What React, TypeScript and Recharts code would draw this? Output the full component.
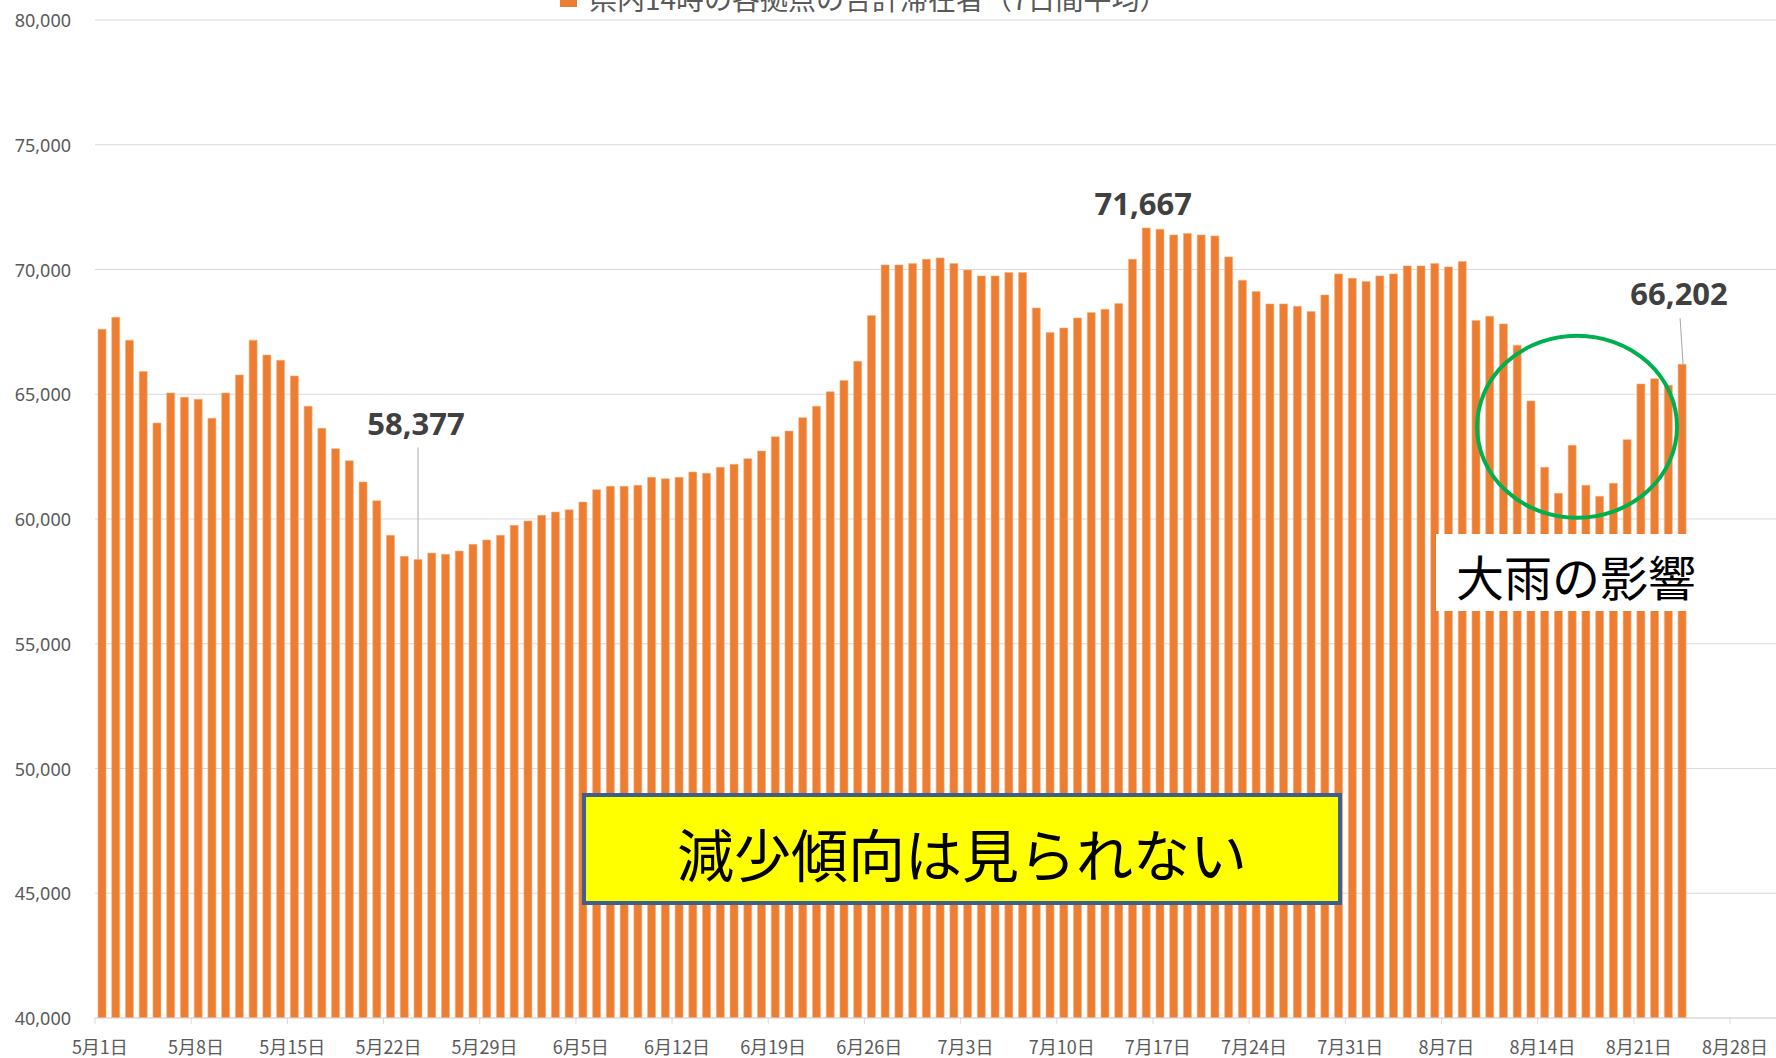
import { BarChart, Bar, XAxis, YAxis, CartesianGrid, LabelList, ReferenceDot } from 'recharts'

// 県内14時の各拠点の合計滞在者（7日間平均）, daily
const mayValues = [
  67607, 68088, 67165, 65907, 63849, 65052, 64880, 64800, 64038, 65052,
  65774, 67165, 66576, 66363, 65734, 64519, 63637, 62819, 62337, 61483,
  60733, 59346, 58504, 58377, 58636, 58583, 58716, 58984, 59160, 59346,
  59747,
]
const juneValues = [
  59920, 60148, 60280, 60373, 60681, 61175, 61311, 61311, 61351, 61672,
  61616, 61672, 61884, 61832, 62073, 62193, 62418, 62726, 63300, 63528,
  64062, 64519, 65100, 65550, 66323, 68152, 70184, 70184, 70237, 70413,
]
const julyValues = [
  70465, 70237, 69984, 69743, 69743, 69876, 69876, 68460, 67470, 67658,
  68059, 68272, 68408, 68633, 70413, 71667, 71616, 71387, 71440, 71387,
  71347, 70505, 69571, 69114, 68621, 68621, 68528, 68312, 68981, 69824,
  69652,
]
const augustValues = [
  69515, 69744, 69824, 70145, 70145, 70237, 70105, 70317, 67951, 68128,
  67819, 66965, 64731, 62073, 61030, 62955, 61351, 60910, 61431, 63180,
  65413, 65626, 65361, 66202,
]

const months = [5, 6, 7, 8]
const monthLengths = [31, 30, 31, 31]
const seriesByMonth = [mayValues, juneValues, julyValues, augustValues]

const xTickLabels = [
  '5月1日', '5月8日', '5月15日', '5月22日', '5月29日', '6月5日', '6月12日',
  '6月19日', '6月26日', '7月3日', '7月10日', '7月17日', '7月24日', '7月31日',
  '8月7日', '8月14日', '8月21日', '8月28日',
]
const yTicks = [40000, 45000, 50000, 55000, 60000, 65000, 70000, 75000, 80000]
const calloutDays = ['5月24日', '7月16日', '8月24日']
const legendLabel = '県内14時の各拠点の合計滞在者（7日間平均）'

const data = months.flatMap((m, mi) =>
  Array.from({ length: monthLengths[mi] }, (_, d) => ({
    day: `${m}月${d + 1}日`,
    visitors: seriesByMonth[mi][d] ?? null,
  })),
)

const CHART_W = 1785
const AXIS_W = 95
const SLOT = (CHART_W - AXIS_W) / data.length
const ORANGE = '#ED7D31'
const GRID = '#D9D9D9'
const TICK_TEXT = '#595959'
const jpFont = '"Noto Sans CJK JP", "Noto Sans", sans-serif'

const DayTick = ({ x, y, payload }: any) => (
  <g>
    <line x1={x - SLOT / 2} x2={x - SLOT / 2} y1={y} y2={y + 6} stroke={GRID} />
    <text x={x - 2} y={y + 28} textAnchor="middle" dominantBaseline="central"
      fontSize={18} fill={TICK_TEXT} fontFamily={jpFont}>
      {payload.value}
    </text>
  </g>
)

const ValueTick = ({ x, y, payload }: any) => (
  <text x={x - 24} y={y} textAnchor="end" dominantBaseline="central"
    fontSize={18} fill={TICK_TEXT} fontFamily='"Noto Sans", sans-serif'>
    {payload.value.toLocaleString('en-US')}
  </text>
)

const renderCallout = (props: any) => {
  const { x, y, width, value, index } = props
  const day = data[index]?.day
  if (value == null || !calloutDays.includes(day)) return null
  const cx = x + width / 2
  const txt = Number(value).toLocaleString('en-US')
  const textStyle = {
    fontSize: 31, fontWeight: 700, fill: '#404040', fontFamily: '"Noto Sans", sans-serif',
  }
  if (day === '5月24日') {
    return (
      <g>
        <line x1={cx} x2={cx} y1={y - 112} y2={y} stroke="#A6A6A6" strokeWidth={1} />
        <text x={cx - 2} y={y - 124} textAnchor="middle" style={textStyle}>{txt}</text>
      </g>
    )
  }
  if (day === '8月24日') {
    return (
      <g>
        <line x1={cx - 2} x2={cx + 1} y1={y - 46} y2={y} stroke="#A6A6A6" strokeWidth={1} />
        <text x={cx - 3} y={y - 59} textAnchor="middle" style={textStyle}>{txt}</text>
      </g>
    )
  }
  return <text x={cx - 3} y={y - 13} textAnchor="middle" style={textStyle}>{txt}</text>
}

export default function App() {
  return (
    <div style={{ position: 'absolute', left: 0, top: 0, width: 1776, height: 1058, overflow: 'hidden', background: '#fff' }}>
      <BarChart width={CHART_W} height={1058} data={data}
        margin={{ top: 20, right: 0, bottom: 0, left: 0 }}>
        <CartesianGrid vertical={false} stroke={GRID} />
        <XAxis dataKey="day" ticks={xTickLabels} interval={0} height={40}
          tickLine={false} tickSize={0} tickMargin={0} stroke={GRID} tick={<DayTick />} />
        <YAxis domain={[40000, 80000]} ticks={yTicks} width={AXIS_W} allowDataOverflow
          axisLine={false} tickLine={false} tickSize={0} tickMargin={0} tick={<ValueTick />} />
        <Bar dataKey="visitors" fill={ORANGE} barSize={8} stroke="#F4B183" strokeWidth={0.6}
          isAnimationActive={false}>
          <LabelList dataKey="visitors" content={renderCallout} />
        </Bar>
        <ReferenceDot x="8月16日" y={63700} r={0}
          shape={(p: any) => (
            <ellipse cx={p.cx + 5} cy={p.cy} rx={100} ry={91} fill="none" stroke="#00B050" strokeWidth={4} />
          )} />
      </BarChart>

      {/* legend, cut off by the top edge like the source */}
      <div style={{
        position: 'absolute', left: 560, top: -22, display: 'flex', alignItems: 'center', gap: 12,
        fontSize: 28, lineHeight: '40px', color: TICK_TEXT, fontFamily: jpFont, whiteSpace: 'nowrap',
      }}>
        <span style={{ width: 17, height: 17, background: ORANGE, display: 'inline-block' }} />
        {legendLabel}
      </div>

      <div style={{
        position: 'absolute', left: 582, top: 793, width: 760, height: 112, boxSizing: 'border-box',
        border: '4px solid #3D5F8F', background: '#FFFF00', display: 'flex', alignItems: 'center',
        justifyContent: 'center', paddingTop: 6, fontSize: 57, fontFamily: jpFont, color: '#000',
      }}>
        減少傾向は見られない
      </div>

      <div style={{
        position: 'absolute', left: 1436, top: 534, width: 262, height: 77, boxSizing: 'border-box',
        background: '#fff', display: 'flex', alignItems: 'center', paddingLeft: 20, paddingTop: 4,
        fontSize: 48, fontFamily: jpFont, color: '#000', whiteSpace: 'nowrap',
      }}>
        大雨の影響
      </div>
    </div>
  )
}
